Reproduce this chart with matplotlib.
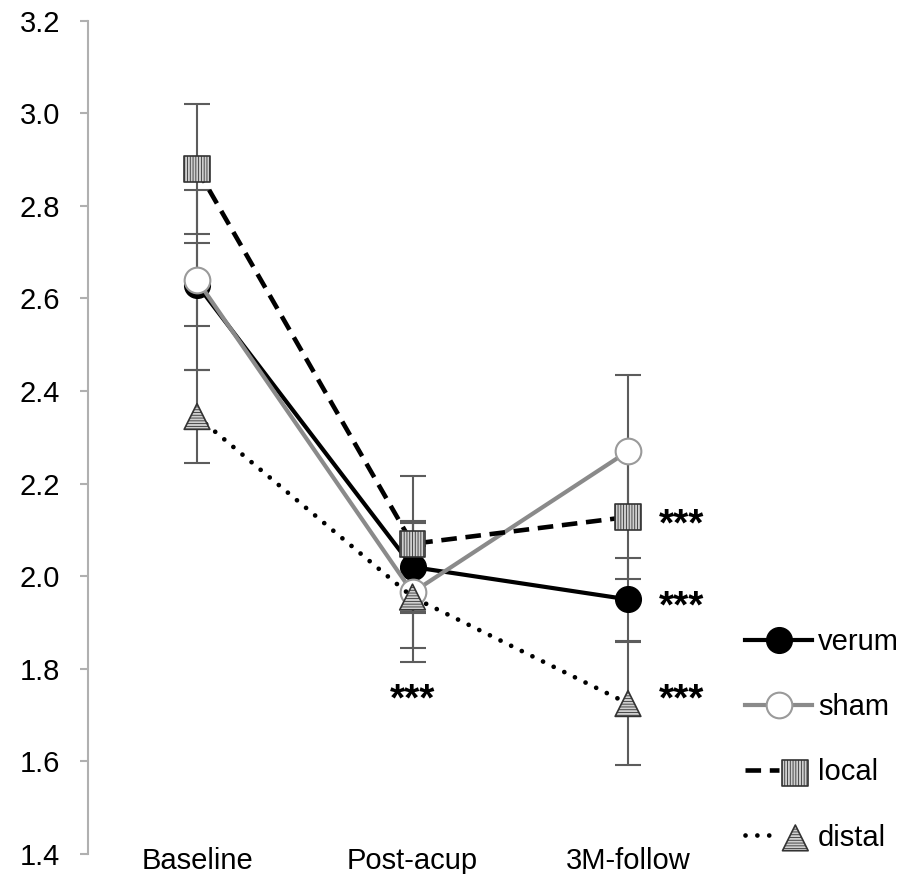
import numpy as np
import matplotlib.pyplot as plt
from matplotlib.legend_handler import HandlerTuple

plt.rcParams['font.family'] = ['Liberation Sans', 'DejaVu Sans']
plt.rcParams['hatch.linewidth'] = 0.6
plt.rcParams['hatch.color'] = '#5a5a5a'

categories = ['Baseline', 'Post-acup', '3M-follow']

verum = [2.63, 2.02, 1.95]
verum_se = [0.09, 0.10, 0.09]
sham = [2.64, 1.965, 2.27]
sham_se = [0.195, 0.15, 0.165]
local = [2.88, 2.07, 2.128]
local_se = [0.14, 0.147, 0.135]
distal = [2.345, 1.955, 1.725]
distal_se = [0.10, 0.11, 0.132]

# significance marks: (x index, y value)
stars = [(1, 1.748), (2, 2.128), (2, 1.95), (2, 1.748)]

x = np.arange(len(categories))

fig = plt.figure(figsize=(9.08, 8.74), dpi=100)
ax = fig.add_axes([0.0969, 0.0229, 0.8795, 0.9534])

err_kw = dict(fmt='none', ecolor='#5c5c5c', elinewidth=1.5, capsize=9.5,
              capthick=1.5, zorder=1)
for vals, se in [(verum, verum_se), (sham, sham_se), (local, local_se), (distal, distal_se)]:
    ax.errorbar(x, vals, yerr=se, **err_kw)

ms = 18.5
# verum
l_verum, = ax.plot(x, verum, color='black', lw=3, marker='o', ms=ms,
                   mfc='black', mec='black', zorder=3, clip_on=False)
# sham
l_sham, = ax.plot(x, sham, color='#8a8a8a', lw=3, marker='o', ms=ms,
                  mfc='white', mec='#9a9a9a', mew=1.5, zorder=4, clip_on=False)
# local
l_local, = ax.plot(x, local, color='black', lw=3.3, ls=(0, (3.4, 1.9)), zorder=5,
                   clip_on=False)
s_local = ax.scatter(x, local, s=ms ** 2, marker='s', facecolor='#cfcfcf',
                     edgecolor='#333333', linewidth=1.2, hatch='||||||', zorder=6,
                     clip_on=False)
# distal
l_distal, = ax.plot(x, distal, color='black', lw=3.4, ls=(0, (0.01, 2.5)),
                    dash_capstyle='round', zorder=7, clip_on=False)
s_distal = ax.scatter(x, distal, s=ms ** 2, marker='^', facecolor='#cfcfcf',
                      edgecolor='#333333', linewidth=1.2, hatch='------', zorder=8,
                      clip_on=False)

for xi, yi in stars:
    if xi == 1:
        ax.annotate('***', xy=(xi, yi), xytext=(0, -13), textcoords='offset points',
                    ha='center', va='baseline', fontsize=28, fontweight='bold')
    else:
        ax.annotate('***', xy=(xi, yi), xytext=(22, -13), textcoords='offset points',
                    ha='left', va='baseline', fontsize=28, fontweight='bold')

ax.set_xlim(-0.506, 3.2)
ax.set_ylim(1.4, 3.2)
ax.set_yticks(np.arange(1.4, 3.21, 0.2))
ax.yaxis.set_major_formatter(plt.FormatStrFormatter('%.1f'))
ax.set_xticks(x, categories)

for side in ['top', 'right', 'bottom']:
    ax.spines[side].set_visible(False)
ax.spines['left'].set_color('#b0b0b0')
ax.spines['left'].set_linewidth(1.5)
ax.tick_params(axis='y', length=6, width=1.5, color='#b0b0b0', pad=14,
               labelsize=21)
ax.tick_params(axis='x', length=0, pad=-5, labelsize=21)

leg = fig.legend([(l_verum,), (l_sham,), (l_local, s_local), (l_distal, s_distal)],
                 ['verum', 'sham', 'local', 'distal'],
                 handler_map={tuple: HandlerTuple(ndivide=None)},
                 loc='upper left', bbox_to_anchor=(0.8205, 0.281), frameon=False,
                 fontsize=21, handlelength=2.3, handletextpad=0.2,
                 labelspacing=1.27, borderpad=0, borderaxespad=0, scatterpoints=1)

fig.savefig('out.png', dpi=100)
